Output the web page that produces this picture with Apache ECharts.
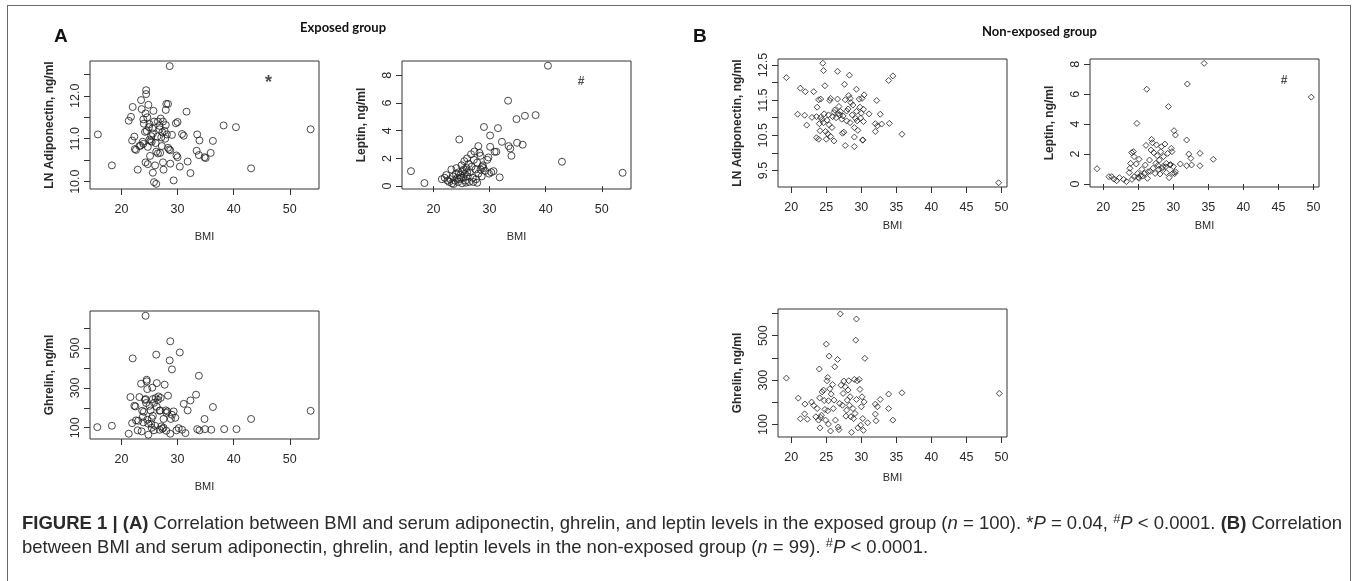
<!DOCTYPE html>
<html>
<head>
<meta charset="utf-8">
<script src="https://cdn.jsdelivr.net/npm/echarts@6/dist/echarts.min.js"></script>
<style>
  html, body { margin: 0; padding: 0; background: #fff; }
  #wrap { position: relative; width: 1358px; height: 581px; overflow: hidden; }
  #chart { position: absolute; left: 0; top: 0; width: 1358px; height: 581px; }
  #frame { position: absolute; left: 7px; top: 5px; width: 1344px; height: 600px; border: 1.5px solid #6a6a6a; box-sizing: border-box; pointer-events: none; }
  #caption { position: absolute; left: 22px; top: 511px; font-family: "Liberation Sans", Arial, sans-serif; font-size: 16px; line-height: 24px; color: #2a2a2a; white-space: nowrap; }
  #caption b { font-weight: bold; }
  #caption sup { font-size: 70%; line-height: 0; vertical-align: 0.45em; }
</style>
</head>
<body>
<div id="wrap">
  <div id="chart"></div>
  <div id="frame"></div>
  <div id="caption"><span id="cl1"><b>FIGURE 1 | (A)</b> Correlation between BMI and serum adiponectin, ghrelin, and leptin levels in the exposed group (<i>n</i> = 100). *<i>P</i> = 0.04, <sup>#</sup><i>P</i> &lt; 0.0001. <b>(B)</b> Correlation</span><br><span id="cl2">between BMI and serum adiponectin, ghrelin, and leptin levels in the non-exposed group (<i>n</i> = 99). <sup>#</sup><i>P</i> &lt; 0.0001.</span></div>
</div>
<script>
// ---------- tick values ----------
const xTicksA = [20, 30, 40, 50];
const xTicksB = [20, 25, 30, 35, 40, 45, 50];
const adipTicksA = [10, 10.5, 11, 11.5, 12, 12.5];
const adipLabelsA = [10, 11, 12];
const adipTicksB = [9.5, 10, 10.5, 11, 11.5, 12, 12.5];
const adipLabelsB = [9.5, 10.5, 11.5, 12.5];
const leptinTicks = [0, 2, 4, 6, 8];
const ghrelinTicks = [100, 200, 300, 400, 500, 600];
const ghrelinLabels = [100, 300, 500];

// ---------- exposed group: [BMI, value] ----------
const adipExposed = [
  [15.8,11.10],[18.3,10.38],[22.9,10.28],[21.3,11.42],[21.7,11.51],[22.0,11.74],[21.9,10.96],[22.3,11.05],
  [22.6,10.74],[22.4,10.76],[23.2,10.83],[23.5,11.90],[23.6,11.69],[24.4,12.13],[24.4,12.04],[24.3,11.59],
  [24.8,11.79],[23.9,11.45],[23.8,10.93],[24.2,11.16],[24.5,11.18],[24.3,10.45],[24.7,10.41],[24.7,10.81],
  [25.1,10.60],[25.4,10.93],[25.6,10.21],[25.7,11.65],[26.0,10.38],[25.8,9.99],[26.2,9.95],[25.5,11.24],
  [25.8,11.40],[25.0,11.34],[25.3,11.06],[26.2,10.70],[26.5,10.66],[26.9,10.67],[27.1,11.03],[26.8,11.22],
  [26.5,11.40],[27.0,11.47],[27.4,11.40],[27.2,10.83],[27.4,10.45],[27.5,10.28],[27.7,11.18],[27.9,11.32],
  [28.0,11.81],[28.3,11.81],[27.9,11.67],[28.6,12.69],[28.3,10.79],[28.7,10.73],[28.7,10.42],[29.0,11.09],
  [29.7,11.36],[30.0,11.39],[29.8,10.61],[30.0,10.57],[29.3,10.03],[30.4,10.35],[30.8,11.11],[31.1,11.07],
  [31.6,11.63],[31.8,10.47],[32.3,10.20],[33.5,11.10],[33.9,10.96],[33.4,10.72],[33.8,10.62],[34.8,10.57],
  [35.0,10.55],[35.9,10.67],[36.3,10.95],[38.2,11.31],[40.4,11.27],[43.1,10.31],[53.7,11.22],
  [24.6,11.50],[25.0,10.98],[25.6,11.12],[26.8,11.30],[27.3,11.15],[23.9,10.88],[26.4,11.05],[24.0,11.35],
  [25.2,10.95],[27.8,11.00],[28.1,11.10],[24.9,11.27],[26.1,10.90],[23.4,10.84],[28.5,10.75]
];
const leptinExposed = [
  [16.0,1.08],[18.4,0.22],[24.6,3.37],[29.0,4.27],[30.1,3.66],[31.5,4.19],[33.3,6.17],[32.2,3.20],
  [30.1,2.84],[31.2,2.48],[30.9,2.48],[33.4,2.89],[33.7,2.72],[33.9,2.19],[34.8,4.84],[36.3,5.08],
  [38.2,5.13],[34.9,3.13],[35.9,2.99],[40.4,8.70],[42.9,1.76],[53.7,0.96],[28.0,2.89],[29.8,2.07],
  [30.7,1.08],[31.8,0.63],[28.4,2.19],[28.7,1.40],[27.8,0.24],
  [21.5,0.50],[22.0,0.60],[22.3,0.80],[22.5,0.40],[22.8,0.30],[23.0,0.50],[23.2,1.20],[23.3,0.20],
  [23.5,0.70],[23.8,0.40],[24.0,0.90],[24.1,1.30],[24.3,0.60],[24.4,0.30],[24.5,1.00],[24.6,0.50],
  [24.8,0.80],[25.0,1.50],[25.1,0.20],[25.2,1.10],[25.3,0.60],[25.5,1.80],[25.6,0.90],[25.7,0.40],
  [25.9,1.30],[26.0,2.00],[26.1,0.70],[26.3,1.60],[26.4,0.30],[26.5,1.00],[26.7,2.30],[26.8,1.40],
  [27.0,0.60],[27.2,1.90],[27.3,2.50],[27.5,1.20],[27.6,0.50],[27.8,1.70],[28.0,0.90],[28.2,2.40],
  [28.4,1.20],[28.6,0.70],[28.8,1.50],[29.2,1.10],[29.6,1.90],[29.9,0.90],[30.3,1.00],[26.0,1.00],
  [24.9,0.60],[25.4,1.20],[27.1,0.30],[28.9,1.30],[23.6,0.15],[25.8,0.25]
];
const ghrelinExposed = [
  [15.7,103],[18.3,110],[21.3,70],[22.0,448],[21.6,254],[21.9,123],[22.3,210],[22.5,207],
  [22.6,137],[22.9,87],[23.2,254],[23.5,321],[23.7,185],[23.8,154],[23.9,127],[23.6,82],
  [24.3,662],[24.5,341],[24.5,333],[24.3,244],[24.6,294],[24.4,224],[24.8,65],[24.8,120],
  [25.2,187],[25.4,147],[25.5,301],[25.6,244],[25.4,100],[25.8,87],[26.1,249],[26.2,467],
  [26.3,324],[26.6,257],[26.9,187],[26.8,90],[27.1,107],[27.5,144],[27.7,316],[27.9,187],
  [28.0,85],[28.3,261],[28.2,182],[28.6,438],[28.7,534],[28.7,70],[29.0,393],[28.8,144],
  [29.3,182],[29.6,150],[29.8,87],[30.2,98],[30.4,478],[30.8,90],[31.1,220],[31.4,73],
  [31.8,187],[32.3,237],[33.3,266],[33.8,361],[33.5,93],[33.9,87],[34.8,144],[34.9,93],
  [36.0,90],[36.3,204],[38.3,93],[40.5,93],[43.1,144],[53.7,185],
  [25.0,210],[25.8,225],[26.5,240],[27.0,250],[24.0,180],[25.3,120],[26.0,110],[27.3,95],
  [23.0,135],[24.2,240],[26.8,185],[28.0,175],[29.0,165],[27.5,100],[25.6,160],[24.6,140],[26.3,205]
];

// ---------- non-exposed group: [BMI, value] ----------
const adipNonExposed = [
  [19.3,12.14],[20.9,11.10],[21.3,11.84],[22.0,11.74],[21.9,11.07],[22.2,10.79],[22.95,11.01],[23.2,11.74],
  [23.6,11.03],[23.7,11.30],[23.9,11.51],[23.6,10.43],[23.9,10.39],[24.1,10.63],[24.0,10.83],[24.2,11.01],
  [24.2,11.53],[24.5,12.55],[24.6,12.34],[24.8,11.91],[24.6,10.86],[24.7,11.11],[24.9,10.61],[25.0,10.39],
  [25.2,10.54],[25.1,10.93],[25.3,11.08],[25.5,11.49],[25.6,11.55],[25.6,10.47],[25.8,10.72],[25.9,11.03],
  [26.1,10.34],[26.1,11.15],[26.2,11.22],[26.6,12.32],[26.6,11.53],[26.8,11.32],[26.9,11.08],[27.0,11.18],
  [27.2,10.96],[27.3,10.56],[27.5,10.59],[27.6,11.95],[27.7,10.21],[27.7,11.51],[27.9,11.19],[27.9,10.91],
  [28.2,11.63],[28.3,12.21],[28.4,11.55],[28.5,11.43],[28.4,10.86],[28.7,11.08],[28.8,11.36],[29.0,10.45],
  [29.0,10.18],[29.0,10.72],[29.3,11.81],[29.3,11.18],[29.4,10.91],[29.5,10.64],[29.7,11.53],[29.8,11.30],
  [29.9,10.99],[30.0,11.13],[30.1,11.55],[30.2,10.37],[30.3,10.89],[30.4,11.65],[30.3,11.24],[31.1,11.11],
  [32.0,10.83],[32.0,10.61],[32.2,11.49],[32.3,10.77],[32.7,11.10],[32.9,10.82],[33.9,12.06],[34.5,12.19],
  [34.0,10.84],[35.8,10.53],[49.6,9.15],
  [24.4,10.95],[25.4,10.80],[26.4,11.00],[27.4,11.05],[28.1,11.25],[29.2,10.98],[30.2,10.36],[26.7,11.12]
];
const leptinNonExposed = [
  [19.1,1.02],[20.8,0.49],[21.2,0.49],[21.5,0.33],[21.9,0.22],[22.3,0.42],[22.9,0.31],[23.3,0.16],
  [23.7,0.76],[23.8,1.05],[23.9,1.38],[24.05,2.09],[24.3,2.16],[24.4,1.83],[24.1,0.31],[24.4,0.49],
  [24.7,1.34],[24.8,4.05],[24.9,0.71],[25.1,1.65],[25.1,0.38],[25.5,0.98],[25.6,0.53],[25.9,0.71],
  [26.0,1.27],[26.1,2.58],[26.2,6.33],[26.3,0.38],[26.4,0.82],[26.6,1.60],[26.8,2.27],[26.9,2.98],
  [27.0,2.76],[27.1,1.05],[27.2,2.09],[27.4,0.71],[27.5,1.38],[27.6,2.61],[27.7,1.89],[27.9,0.98],
  [28.0,1.60],[28.1,0.67],[28.2,2.16],[28.3,2.49],[28.5,1.16],[28.6,1.83],[28.8,2.67],[29.0,1.38],
  [29.0,0.76],[29.2,2.05],[29.3,5.17],[29.4,0.42],[29.5,1.27],[29.7,2.38],[29.8,2.16],[29.9,0.71],
  [30.0,1.16],[30.1,3.56],[30.3,3.27],[30.3,0.82],[31.0,1.34],[31.9,2.94],[32.0,6.68],[31.9,1.22],
  [32.2,2.00],[32.5,1.71],[32.6,1.27],[33.8,2.05],[33.8,1.22],[34.4,8.06],[35.7,1.65],[49.7,5.80],
  [25.3,0.55],[25.0,0.45],[26.7,0.85],[27.8,1.25],[28.4,1.05],[29.6,1.30],[30.2,0.70],[28.9,1.15]
];
const ghrelinNonExposed = [
  [19.3,309],[21.0,219],[21.3,126],[21.9,148],[21.95,192],[22.3,124],[22.9,201],[23.2,186],
  [23.5,135],[23.7,172],[23.9,120],[24.0,350],[24.05,220],[24.1,85],[24.2,132],[24.3,142],
  [24.4,247],[24.6,255],[24.7,208],[24.8,168],[24.9,120],[25.0,462],[25.1,297],[25.2,312],
  [25.2,162],[25.3,102],[25.3,207],[25.4,408],[25.5,261],[25.6,71],[25.7,237],[25.9,280],
  [26.0,172],[26.1,210],[26.2,360],[26.3,120],[26.6,393],[26.7,89],[26.8,77],[26.9,195],
  [27.0,598],[27.1,277],[27.3,187],[27.4,240],[27.5,296],[27.7,270],[27.8,138],[27.9,165],
  [28.0,210],[28.1,255],[28.2,297],[28.3,187],[28.4,225],[28.5,135],[28.6,65],[28.8,172],
  [28.9,127],[29.0,303],[29.1,150],[29.2,480],[29.3,575],[29.3,213],[29.4,297],[29.5,85],
  [29.7,303],[29.8,258],[29.9,97],[30.0,180],[30.1,225],[30.2,127],[30.3,74],[30.4,202],
  [30.5,398],[30.9,108],[32.0,147],[32.0,192],[32.1,117],[32.3,180],[32.7,213],[33.9,237],
  [33.9,172],[34.5,120],[35.8,243],[49.7,240]
];

// ---------- significance marks ----------
const sigAdipExposed = [[46.2, 12.29]];
const sigLeptinExposed = [[46.3, 7.54]];
const sigLeptinNonExposed = [[45.8, 6.88]];

// ---------- axis ranges (R style 4% padding) ----------
const xRangeA = [14.4, 55.2];
const xRangeB = [18.1, 50.8];

const AX = '#333';
const FONT = '"Liberation Sans", Arial, sans-serif';

function grid(left, top) {
  return { left: left, top: top, width: 229, height: 128, show: true, borderColor: '#333', borderWidth: 1, backgroundColor: 'transparent', containLabel: false };
}
function xAxis(gi, range, ticks, gap) {
  return {
    type: 'value', gridIndex: gi, min: range[0], max: range[1],
    splitLine: { show: false }, axisLine: { show: false },
    axisTick: { show: true, inside: false, length: 6, lineStyle: { color: AX }, customValues: ticks },
    axisLabel: { show: true, margin: 14, fontSize: 12.5, color: '#2a2a2a', fontFamily: FONT, customValues: ticks },
    name: 'BMI', nameLocation: 'middle', nameGap: gap,
    nameTextStyle: { fontSize: 11, color: '#2a2a2a', fontFamily: FONT }
  };
}
function yAxis(gi, range, ticks, labels, name, fmt) {
  return {
    type: 'value', gridIndex: gi, min: range[0], max: range[1],
    splitLine: { show: false }, axisLine: { show: false },
    axisTick: { show: true, inside: false, length: 6, lineStyle: { color: AX }, customValues: ticks },
    axisLabel: { show: true, rotate: 90, margin: 8, fontSize: 12.5, color: '#2a2a2a', fontFamily: FONT, customValues: labels,
      formatter: fmt || (v => String(v)) },
    name: name, nameLocation: 'middle', nameGap: 34, nameRotate: 90,
    nameTextStyle: { fontSize: 12, fontWeight: 'bold', color: '#2a2a2a', fontFamily: FONT }
  };
}
function pts(idx, data, symbol, size) {
  return {
    type: 'scatter', xAxisIndex: idx, yAxisIndex: idx, data: data,
    symbol: symbol, symbolSize: size, silent: true,
    itemStyle: { color: 'rgba(0,0,0,0)', borderColor: '#1e1e1e', borderWidth: 1 }
  };
}
function mark(idx, data, text, size) {
  return {
    type: 'scatter', xAxisIndex: idx, yAxisIndex: idx, data: data, symbolSize: 0, silent: true,
    label: { show: true, position: 'inside', formatter: text, fontSize: size, fontWeight: 'bold', color: '#222', fontFamily: FONT }
  };
}
const f1 = v => v.toFixed(1);

const chart = echarts.init(document.getElementById('chart'), null, { renderer: 'canvas' });
chart.setOption({
  animation: false,
  backgroundColor: '#fff',
  grid: [grid(90, 61), grid(402, 61), grid(90, 311), grid(778, 59), grid(1090, 59), grid(778, 309)],
  xAxis: [
    xAxis(0, xRangeA, xTicksA, 42), xAxis(1, xRangeA, xTicksA, 42), xAxis(2, xRangeA, xTicksA, 42),
    xAxis(3, xRangeB, xTicksB, 33), xAxis(4, xRangeB, xTicksB, 33), xAxis(5, xRangeB, xTicksB, 35)
  ],
  yAxis: [
    yAxis(0, [9.83, 12.81], adipTicksA, adipLabelsA, 'LN Adiponectin, ng/ml', f1),
    yAxis(1, [-0.21, 9.04], leptinTicks, leptinTicks, 'Leptin, ng/ml'),
    yAxis(2, [43.5, 686], ghrelinTicks, ghrelinLabels, 'Ghrelin, ng/ml'),
    yAxis(3, [9.03, 12.67], adipTicksB, adipLabelsB, 'LN Adiponectin, ng/ml', f1),
    yAxis(4, [-0.2, 8.35], leptinTicks, leptinTicks, 'Leptin, ng/ml'),
    yAxis(5, [44, 620], ghrelinTicks, ghrelinLabels, 'Ghrelin, ng/ml')
  ],
  series: [
    pts(0, adipExposed, 'circle', 7),
    pts(1, leptinExposed, 'circle', 7),
    pts(2, ghrelinExposed, 'circle', 7),
    pts(3, adipNonExposed, 'diamond', 6),
    pts(4, leptinNonExposed, 'diamond', 6),
    pts(5, ghrelinNonExposed, 'diamond', 6),
    mark(0, sigAdipExposed, '*', 18),
    mark(1, sigLeptinExposed, '#', 12),
    mark(4, sigLeptinNonExposed, '#', 12)
  ],
  graphic: [
    { type: 'text', left: 54, top: 27, style: { text: 'A', font: 'bold 19px "Liberation Sans", Arial, sans-serif', fill: '#111' } },
    { type: 'text', left: 693, top: 27, style: { text: 'B', font: 'bold 19px "Liberation Sans", Arial, sans-serif', fill: '#111' } },
    { type: 'text', left: 300, top: 21, style: { text: 'Exposed group', font: 'bold 13px Lato, "Open Sans", sans-serif', fill: '#111' } },
    { type: 'text', left: 982, top: 25, style: { text: 'Non-exposed group', font: 'bold 13px Lato, "Open Sans", sans-serif', fill: '#111' } }
  ]
});

// fit first caption line to its width in the figure
(function () {
  const cap = document.getElementById('caption');
  const l1 = document.getElementById('cl1');
  const target = 1321;
  const w = l1.getBoundingClientRect().width;
  if (w > 0) cap.style.fontSize = (16 * target / w).toFixed(2) + 'px';
})();
</script>
</body>
</html>
